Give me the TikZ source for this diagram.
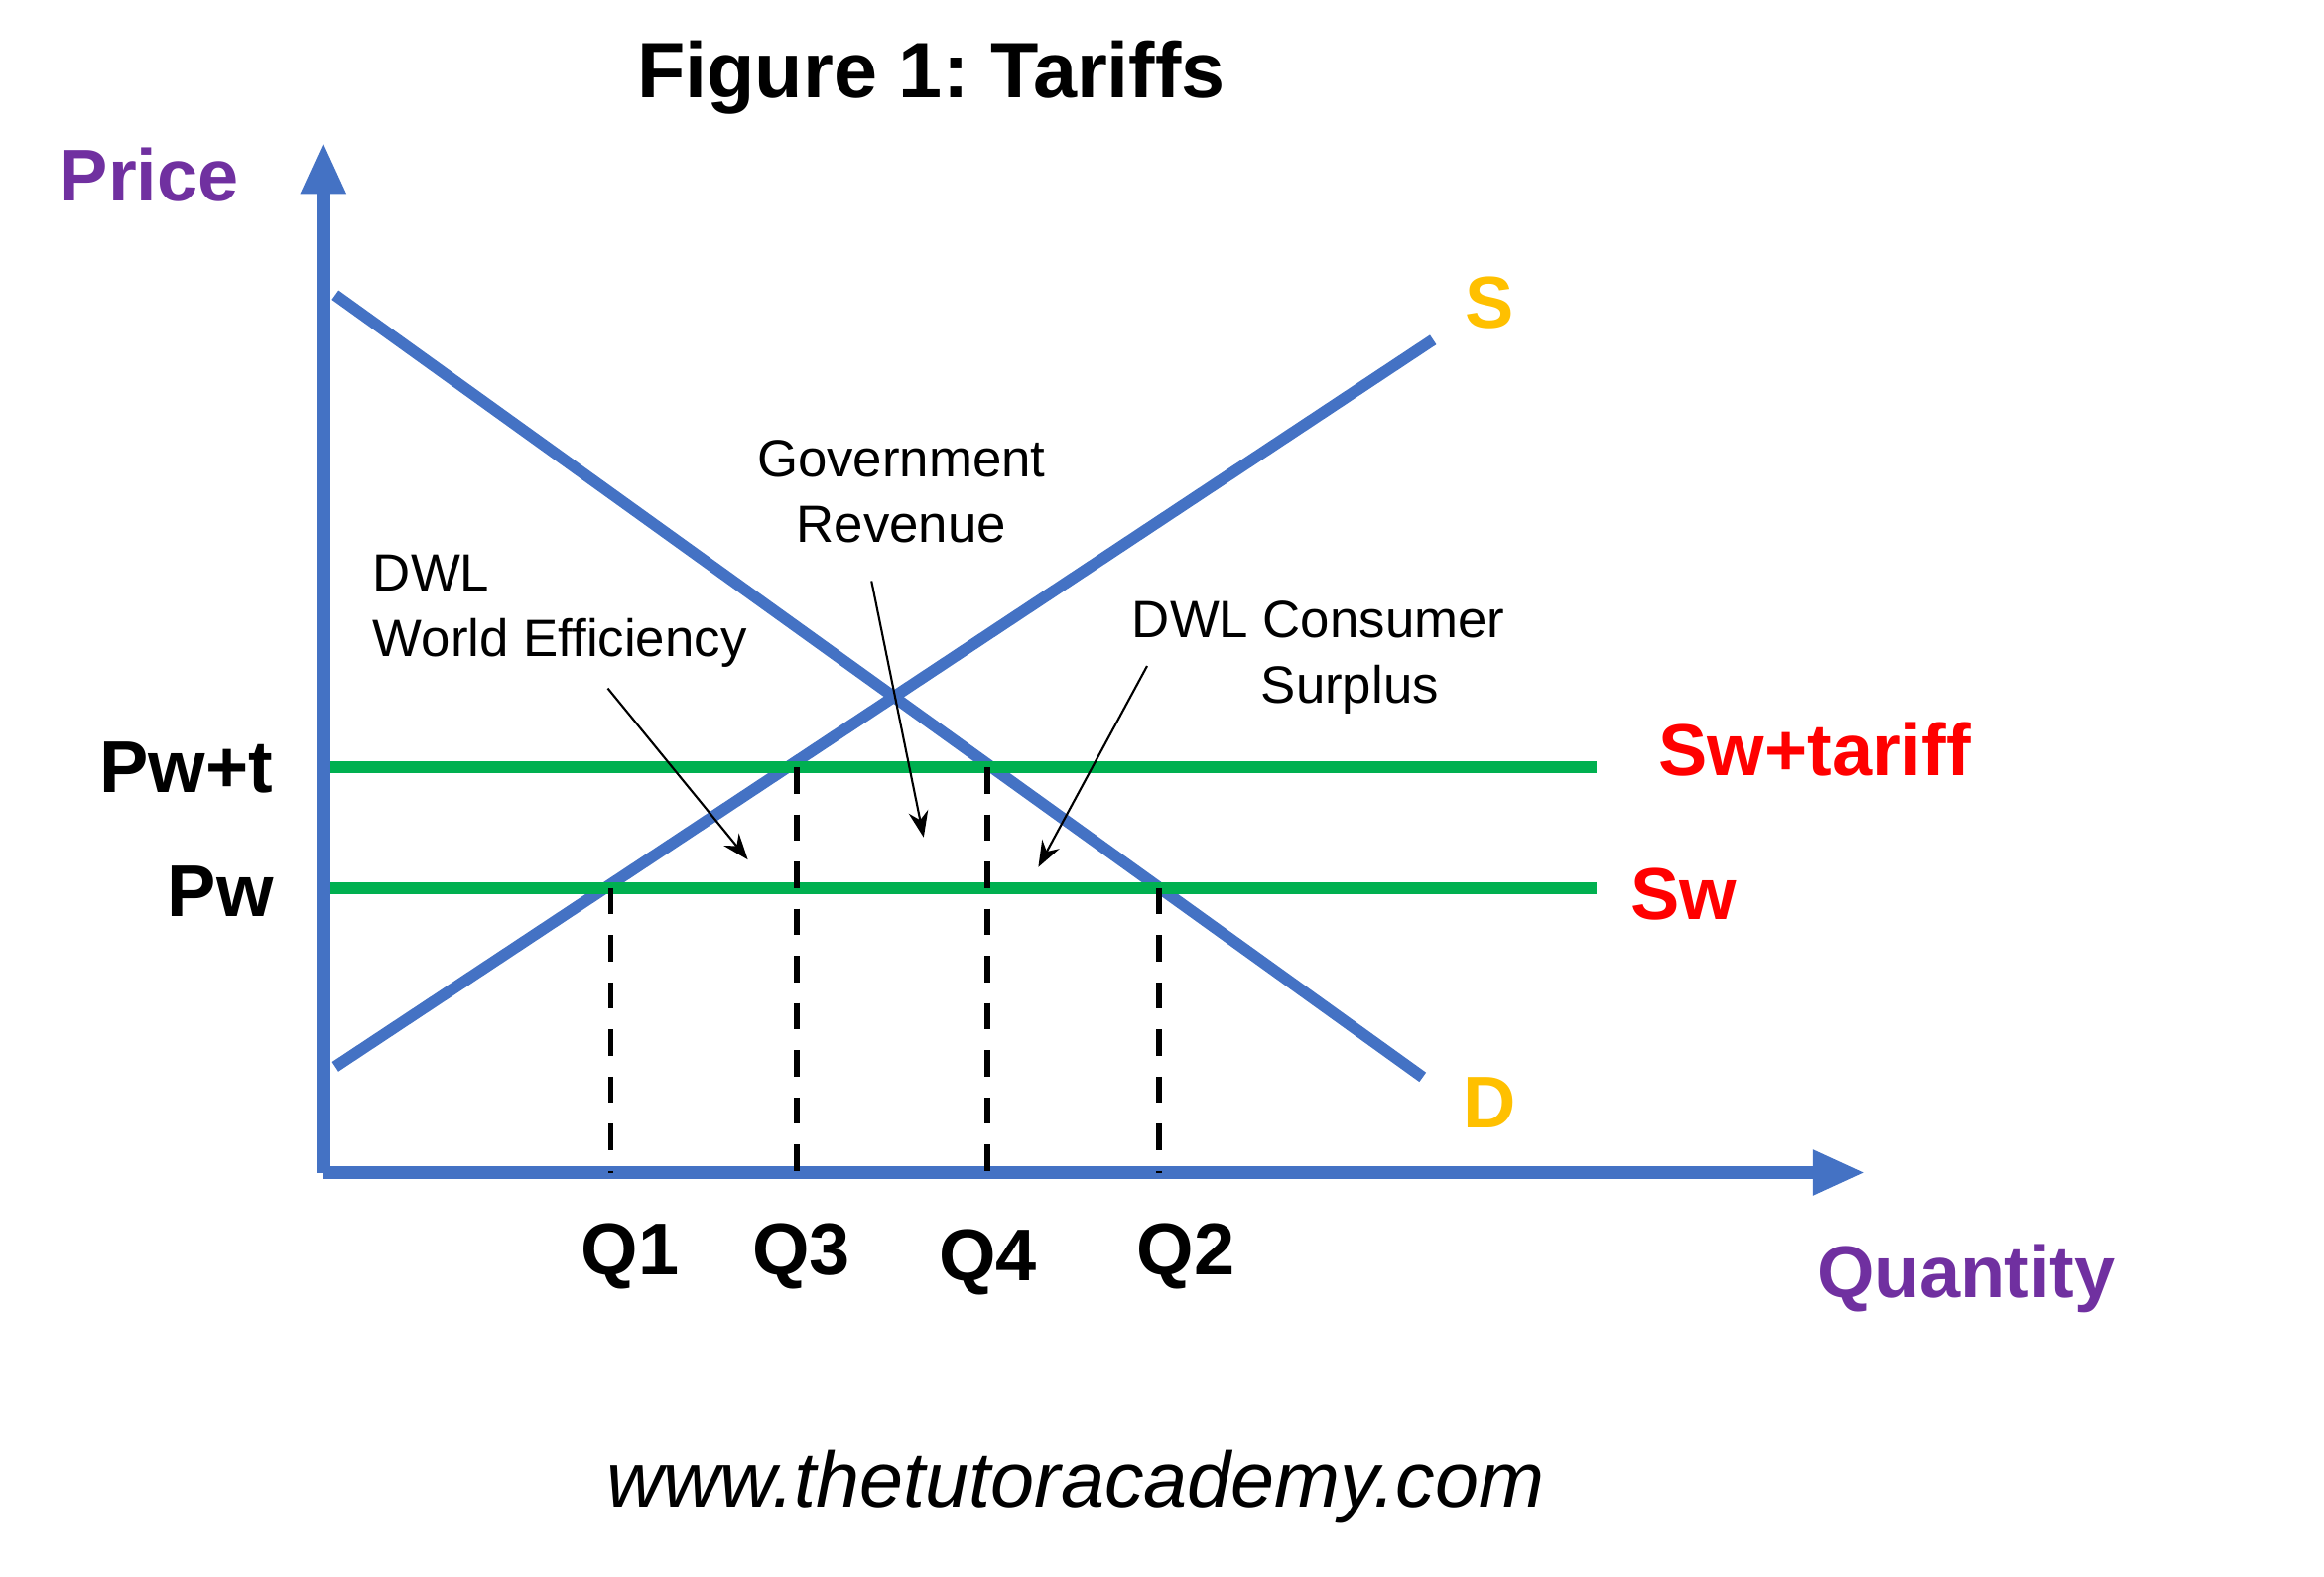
\documentclass[tikz,border=0pt]{standalone}
\usepackage{fontspec}
\setmainfont{Liberation Sans}
\usetikzlibrary{arrows.meta}
\frenchspacing
\definecolor{axisblue}{RGB}{68,114,196}
\definecolor{swgreen}{RGB}{0,176,80}
\definecolor{labpurple}{RGB}{112,48,160}
\definecolor{labgold}{RGB}{255,192,0}
\tikzset{
  curve/.style={axisblue,line width=2.2pt},
  price/.style={swgreen,line width=2.2pt},
  guide/.style={black,dashed,line width=1.1pt,dash pattern=on 5pt off 4pt},
  big/.style={font=\fontsize{14}{16}\selectfont\bfseries},
  note/.style={font=\fontsize{10}{12.5}\selectfont,align=center},
  pointer/.style={-{Stealth[length=5pt]},thin}
}
\begin{document}
\begin{tikzpicture}[x=0.01cm,y=-0.01cm]
  \useasboundingbox (0,0) rectangle (1560,1058);
  % axes
  \coordinate (o) at (217,787);
  \coordinate (ytop) at (217,95);
  \coordinate (xend) at (1252,787);
  \draw[axisblue,line width=2.6pt,-{Triangle[length=10pt,width=8pt]}] (o) -- (ytop);
  \draw[axisblue,line width=2.6pt,-{Triangle[length=10pt,width=8pt]}] (o) -- (xend);
  % demand and supply
  \coordinate (d1) at (225,198);
  \coordinate (d2) at (955,723);
  \coordinate (s1) at (225,716);
  \coordinate (s2) at (962,228);
  \draw[curve] (d1) -- (d2);
  \draw[curve] (s1) -- (s2);
  % world price lines
  \coordinate (pt1) at (222,515);
  \coordinate (pt2) at (1072,515);
  \coordinate (pw1) at (222,596);
  \coordinate (pw2) at (1072,596);
  \draw[price] (pt1) -- (pt2);
  \draw[price] (pw1) -- (pw2);
  % quantities
  \foreach \q/\x/\y in {q1/410/596,q3/535/515,q4/663/515,q2/778/596}{
    \coordinate (\q top) at (\x,\y);
    \coordinate (\q bot) at (\x,787);
    \draw[guide] (\q top) -- (\q bot);
  }
  \node[big] (lq1) at (423,843) {Q1};
  \node[big] (lq3) at (538,843) {Q3};
  \node[big] (lq4) at (663,847) {Q4};
  \node[big] (lq2) at (796,843) {Q2};
  % labels
  \node[font=\fontsize{15}{17}\selectfont\bfseries] (title) at (625,52) {Figure 1: Tariffs};
  \node[big,labpurple] (price) at (100,117) {Price};
  \node[big,labpurple] (qty) at (1320,858) {Quantity};
  \node[big,labgold] (slab) at (1000,203) {S};
  \node[big,labgold] (dlab) at (1000,740) {D};
  \node[big,red] (swt) at (1218,503) {Sw+tariff};
  \node[big,red] (sw) at (1130,600) {Sw};
  \node[big] (pwt) at (125,515) {Pw+t};
  \node[big] (pw) at (148,598) {Pw};
  % annotations
  \node[note,align=left,anchor=north west] (dwlw) at (238,360) {DWL\\World Efficiency};
  \node[note] (gov) at (605,330) {Government\\Revenue};
  \node[note] (dwlc) at (885,441) {DWL Consumer\\\hspace*{1.2em}Surplus};
  \coordinate (aw) at (502,577);
  \coordinate (ag) at (620,562);
  \coordinate (ac) at (697,582);
  \draw[pointer] (408,462) -- (aw);
  \draw[pointer] (585,390) -- (ag);
  \draw[pointer] (770,447) -- (ac);
  \node[font=\fontsize{15}{17}\selectfont\itshape] (url) at (722,998) {www.thetutoracademy.com};
\end{tikzpicture}
\end{document}
